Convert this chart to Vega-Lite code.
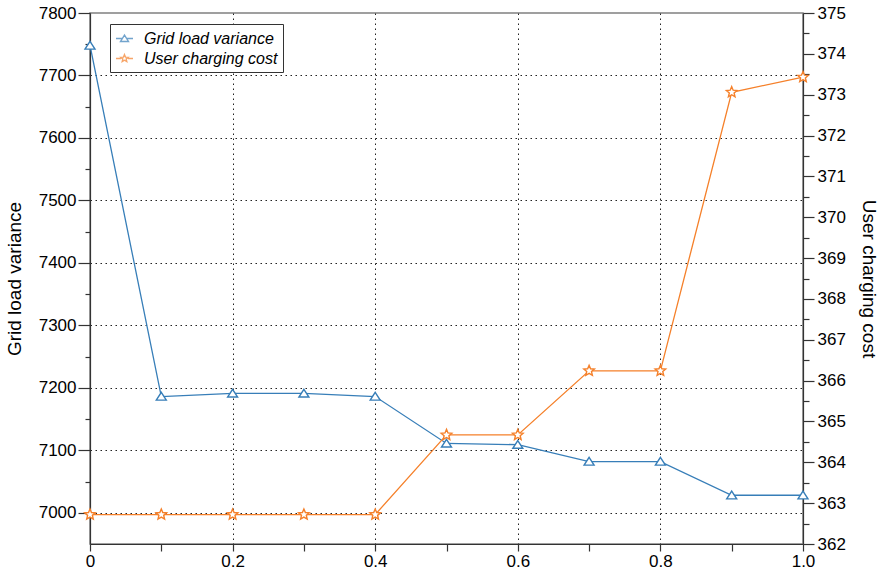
{
  "$schema": "https://vega.github.io/schema/vega-lite/v6.json",
  "width": 713,
  "height": 531,
  "autosize": {"type": "none"},
  "padding": {"left": 90, "top": 13, "right": 76, "bottom": 32},
  "background": "white",
  "config": {
    "font": "Liberation Sans",
    "view": {"stroke": "#808080", "strokeWidth": 1.5},
    "axis": {
      "labelFont": "Liberation Sans",
      "labelFontSize": 17,
      "labelColor": "#000",
      "labelFlush": false,
      "titleFont": "Liberation Sans",
      "titleFontSize": 19,
      "titleFontWeight": "normal",
      "titleColor": "#000",
      "domainColor": "#333",
      "domainWidth": 1.2,
      "tickColor": "#333",
      "tickWidth": 1.2,
      "gridColor": "#222",
      "gridDash": [1.5, 3.5],
      "gridWidth": 1
    }
  },
  "data": {
    "values": [
      {"x": 0.0, "variance": 7748, "cost": 362.72},
      {"x": 0.1, "variance": 7186, "cost": 362.72},
      {"x": 0.2, "variance": 7191, "cost": 362.72},
      {"x": 0.3, "variance": 7191, "cost": 362.72},
      {"x": 0.4, "variance": 7186, "cost": 362.72},
      {"x": 0.5, "variance": 7111, "cost": 364.67},
      {"x": 0.6, "variance": 7109, "cost": 364.67},
      {"x": 0.7, "variance": 7082, "cost": 366.24},
      {"x": 0.8, "variance": 7082, "cost": 366.24},
      {"x": 0.9, "variance": 7028, "cost": 373.06},
      {"x": 1.0, "variance": 7028, "cost": 373.43}
    ]
  },
  "layer": [
    {
      "mark": {
        "type": "line",
        "color": "#377eb8",
        "strokeWidth": 1.3,
        "point": {
          "shape": "M0,-0.75L0.9,0.65H-0.9Z",
          "size": 123,
          "filled": true,
          "fill": "white",
          "stroke": "#377eb8",
          "strokeWidth": 1.4
        }
      },
      "encoding": {
        "x": {
          "field": "x",
          "type": "quantitative",
          "scale": {"domain": [0, 1], "nice": false, "zero": false},
          "axis": {
            "title": null,
            "values": [0, 0.1, 0.2, 0.3, 0.4, 0.5, 0.6, 0.7, 0.8, 0.9, 1.0],
            "labelExpr": "round(datum.value*10) % 2 === 0 ? (datum.value === 0 ? '0' : format(datum.value, '.1f')) : ''",
            "tickSize": 7,
            "labelPadding": 2,
            "grid": true,
            "gridOpacity": {"condition": {"test": "round(datum.value*10) % 2 === 0 && datum.value > 0 && datum.value < 1", "value": 1}, "value": 0}
          }
        },
        "y": {
          "field": "variance",
          "type": "quantitative",
          "scale": {"domain": [6950, 7800], "nice": false, "zero": false},
          "axis": {
            "orient": "left",
            "title": "Grid load variance",
            "titlePadding": 14,
            "values": [7000, 7050, 7100, 7150, 7200, 7250, 7300, 7350, 7400, 7450, 7500, 7550, 7600, 7650, 7700, 7750, 7800],
            "format": "d",
            "labelExpr": "datum.value % 100 === 0 ? datum.label : ''",
            "tickSize": {"condition": {"test": "datum.value % 100 === 0", "value": 12}, "value": 5},
            "labelPadding": 2,
            "grid": true,
            "gridOpacity": {"condition": {"test": "datum.value % 100 === 0 && datum.value < 7800", "value": 1}, "value": 0}
          }
        }
      }
    },
    {
      "mark": {
        "type": "line",
        "color": "#f5802a",
        "strokeWidth": 1.3,
        "point": {
          "shape": "M0,-1L0.265,-0.364L0.951,-0.309L0.428,0.139L0.588,0.809L0,0.45L-0.588,0.809L-0.428,0.139L-0.951,-0.309L-0.265,-0.364Z",
          "size": 125,
          "filled": true,
          "fill": "white",
          "stroke": "#f5802a",
          "strokeWidth": 1.4
        }
      },
      "encoding": {
        "x": {"field": "x", "type": "quantitative"},
        "y": {
          "field": "cost",
          "type": "quantitative",
          "scale": {"domain": [362, 375], "nice": false, "zero": false},
          "axis": {
            "orient": "right",
            "title": "User charging cost",
            "titlePadding": 13,
            "values": [362, 362.5, 363, 363.5, 364, 364.5, 365, 365.5, 366, 366.5, 367, 367.5, 368, 368.5, 369, 369.5, 370, 370.5, 371, 371.5, 372, 372.5, 373, 373.5, 374, 374.5, 375],
            "labelExpr": "datum.value % 1 === 0 ? format(datum.value, 'd') : ''",
            "tickSize": {"condition": {"test": "datum.value % 1 === 0", "value": 11}, "value": 6},
            "labelPadding": 3,
            "grid": false
          }
        }
      }
    },
    {
      "data": {"values": [{"series": "Grid load variance"}, {"series": "User charging cost"}]},
      "transform": [{"filter": "false"}],
      "mark": {"type": "point", "filled": false, "strokeWidth": 1.4},
      "encoding": {
        "color": {
          "field": "series",
          "type": "nominal",
          "scale": {"domain": ["Grid load variance", "User charging cost"], "range": ["#377eb8", "#f5802a"]},
          "legend": {
            "title": null,
            "orient": "none",
            "legendX": 20,
            "legendY": 11,
            "direction": "vertical",
            "fillColor": "white",
            "strokeColor": "#333",
            "padding": 5,
            "labelFont": "Liberation Sans",
            "labelFontStyle": "italic",
            "labelFontSize": 16,
            "labelColor": "#000",
            "labelOffset": 10,
            "labelLimit": 400,
            "labelExpr": "datum.label + '\u00a0\u00a0\u00a0\u00a0\u00a0\u00a0\u00a0\u00a0'",
            "symbolSize": 289,
            "symbolStrokeWidth": 1.4,
            "rowPadding": 2
          }
        },
        "shape": {
          "field": "series",
          "type": "nominal",
          "scale": {
            "domain": ["Grid load variance", "User charging cost"],
            "range": [
              "M-1,0H-0.25M0.25,0H1M0,-0.4L0.47,0.35H-0.47Z",
              "M-1,0H-0.4M0.4,0H1M0,-0.45L0.119,-0.164L0.428,-0.139L0.193,0.063L0.265,0.364L0,0.203L-0.265,0.364L-0.193,0.063L-0.428,-0.139L-0.119,-0.164Z"
            ]
          }
        }
      }
    }
  ],
  "resolve": {"scale": {"y": "independent"}}
}
